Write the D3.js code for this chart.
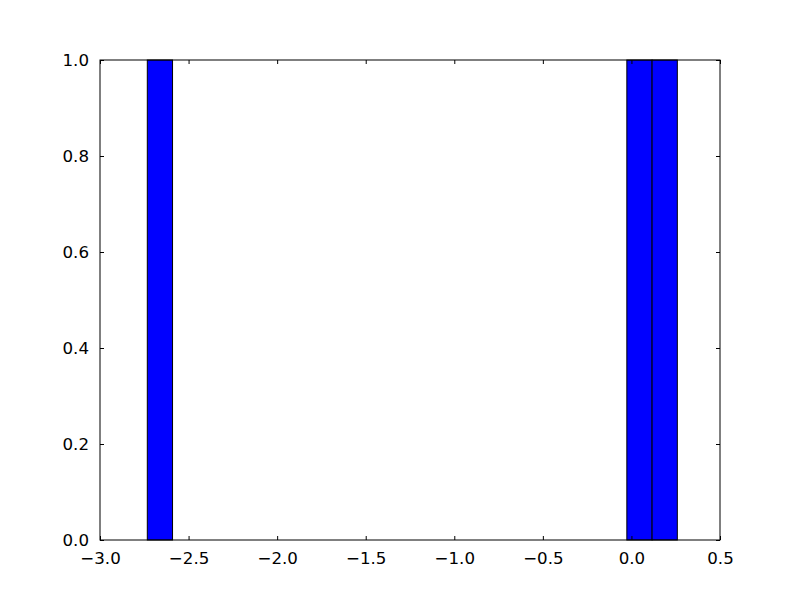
<!DOCTYPE html>
<html>
<head>
<meta charset="utf-8">
<script src="https://cdn.jsdelivr.net/npm/d3@7"></script>
<style>
body { margin: 0; background: #fff; }
text { font-family: "DejaVu Sans", sans-serif; }
</style>
</head>
<body>
<svg id="chart" width="800" height="600"></svg>
<script>
// Histogram data
const binStart = -2.733;
const binWidth = 0.14248;
const binCounts = [1,0,0,0,0,0,0,0,0,0,0,0,0,0,0,0,0,0,0,1,1];
const xTicks = [-3.0, -2.5, -2.0, -1.5, -1.0, -0.5, 0.0, 0.5];
const yTicks = [0.0, 0.2, 0.4, 0.6, 0.8, 1.0];

(function () {
const bins = binCounts.map((c, i) => ({x0: binStart + i * binWidth, x1: binStart + (i + 1) * binWidth, count: c}));

const svg = d3.select("#chart");
const mLeft = 100, mRight = 720, mTop = 60, mBottom = 540;
const x = d3.scaleLinear().domain([-3.0, 0.5]).range([mLeft, mRight]);
const y = d3.scaleLinear().domain([0, 1]).range([mBottom, mTop]);

svg.append("rect").attr("width", 800).attr("height", 600).attr("fill", "#fff");

svg.append("g").selectAll("rect").data(bins.filter(d => d.count > 0)).join("rect")
  .attr("x", d => x(d.x0))
  .attr("y", d => y(d.count))
  .attr("width", d => x(d.x1) - x(d.x0))
  .attr("height", d => y(0) - y(d.count))
  .attr("fill", "#0000ff")
  .attr("stroke", "#000")
  .attr("stroke-width", 1);

const fmt = d3.format(".1f");
const fs = "16.67px";

const xb = svg.append("g").attr("transform", `translate(0,${mBottom})`)
  .call(d3.axisBottom(x).tickValues(xTicks).tickFormat(fmt).tickSizeInner(-4).tickSizeOuter(0).tickPadding(12));
const xt = svg.append("g").attr("transform", `translate(0,${mTop})`)
  .call(d3.axisTop(x).tickValues(xTicks).tickFormat("").tickSizeInner(-4).tickSizeOuter(0));
const yl = svg.append("g").attr("transform", `translate(${mLeft},0)`)
  .call(d3.axisLeft(y).tickValues(yTicks).tickFormat(fmt).tickSizeInner(-4).tickSizeOuter(0).tickPadding(11));
const yr = svg.append("g").attr("transform", `translate(${mRight},0)`)
  .call(d3.axisRight(y).tickValues(yTicks).tickFormat("").tickSizeInner(-4).tickSizeOuter(0));

[xb, xt, yl, yr].forEach(g => {
  g.select(".domain").remove();
  g.selectAll("line").attr("stroke", "#000");
  g.selectAll("text").attr("font-size", fs).attr("fill", "#000").attr("font-family", "DejaVu Sans, sans-serif");
});

svg.append("rect").attr("x", mLeft).attr("y", mTop).attr("width", mRight - mLeft).attr("height", mBottom - mTop)
  .attr("fill", "none").attr("stroke", "#000").attr("stroke-width", 1);
})();
</script>
</body>
</html>
